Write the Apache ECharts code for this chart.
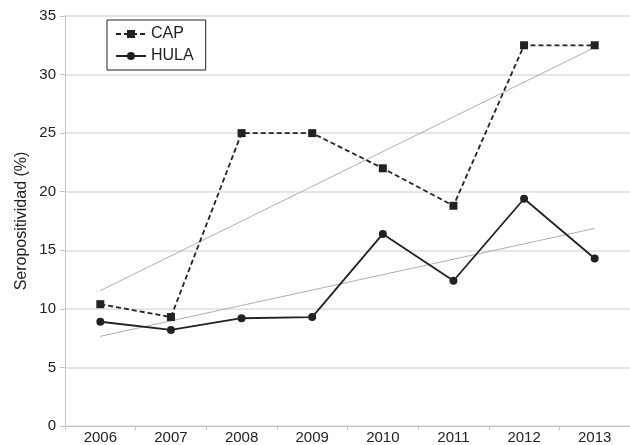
<!DOCTYPE html>
<html><head><meta charset="utf-8">
<script src="https://cdn.jsdelivr.net/npm/echarts@6/dist/echarts.min.js"></script>
<style>html,body{margin:0;padding:0;background:#fff}#c{width:630px;height:445px}</style>
</head><body><div id="c"></div>
<script>
var years = ['2006','2007','2008','2009','2010','2011','2012','2013'];
var cap = [10.4, 9.3, 25, 25, 22, 18.8, 32.5, 32.5];
var hula = [8.9, 8.2, 9.2, 9.3, 16.4, 12.4, 19.4, 14.3];
var yTicks = [0, 5, 10, 15, 20, 25, 30, 35];

function trend(v){
  var n=v.length, mx=(n-1)/2, my=v.reduce(function(a,b){return a+b;},0)/n, sxy=0, sxx=0;
  for(var i=0;i<n;i++){sxy+=(i-mx)*(v[i]-my);sxx+=(i-mx)*(i-mx);}
  var b=sxy/sxx, a=my-b*mx;
  return v.map(function(_,i){return +(a+b*i).toFixed(3);});
}

var chart = echarts.init(document.getElementById('c'), null, {renderer:'canvas'});
var font = 'Liberation Sans, Arial, sans-serif';
chart.setOption({
  animation:false,
  textStyle:{fontFamily:font},
  grid:{left:65, right:-6, top:16, bottom:18, containLabel:false},
  legend:{
    data:[{name:'CAP'},{name:'HULA'}],
    orient:'vertical', left:107, top:20,
    borderColor:'#222', borderWidth:1, padding:[6,12,6,8],
    itemGap:6, itemWidth:30, itemHeight:10,
    textStyle:{fontSize:16, color:'#222', fontFamily:font}
  },
  xAxis:{
    type:'category', data:years, boundaryGap:true,
    axisLine:{lineStyle:{color:'#c4c4c4'}},
    axisTick:{show:true, alignWithLabel:false, length:4, lineStyle:{color:'#c4c4c4'}},
    axisLabel:{fontSize:15, color:'#222', margin:4}
  },
  yAxis:{
    type:'value', min:yTicks[0], max:yTicks[yTicks.length-1], interval:5,
    name:'Seropositividad (%)', nameLocation:'middle', nameGap:35, nameMoveOverlap:false,
    nameTextStyle:{fontSize:16, color:'#222'},
    axisLine:{show:true, lineStyle:{color:'#c4c4c4'}},
    axisTick:{show:true, length:5, lineStyle:{color:'#c4c4c4'}},
    axisLabel:{fontSize:15, color:'#222', margin:9},
    splitLine:{lineStyle:{color:'#dedede', width:1.5}}
  },
  series:[
    {name:'CAP', type:'line', data:cap, symbol:'rect', symbolSize:8,
     lineStyle:{color:'#222', width:1.8, type:[5,3]}, itemStyle:{color:'#222'}, z:5},
    {name:'HULA', type:'line', data:hula, symbol:'circle', symbolSize:8,
     lineStyle:{color:'#222', width:1.8}, itemStyle:{color:'#222'}, z:5},
    {name:'capTrend', type:'line', data:trend(cap), symbol:'none',
     lineStyle:{color:'#999', width:0.8}, silent:true, z:3},
    {name:'hulaTrend', type:'line', data:trend(hula), symbol:'none',
     lineStyle:{color:'#999', width:0.8}, silent:true, z:3}
  ]
});
</script></body></html>
